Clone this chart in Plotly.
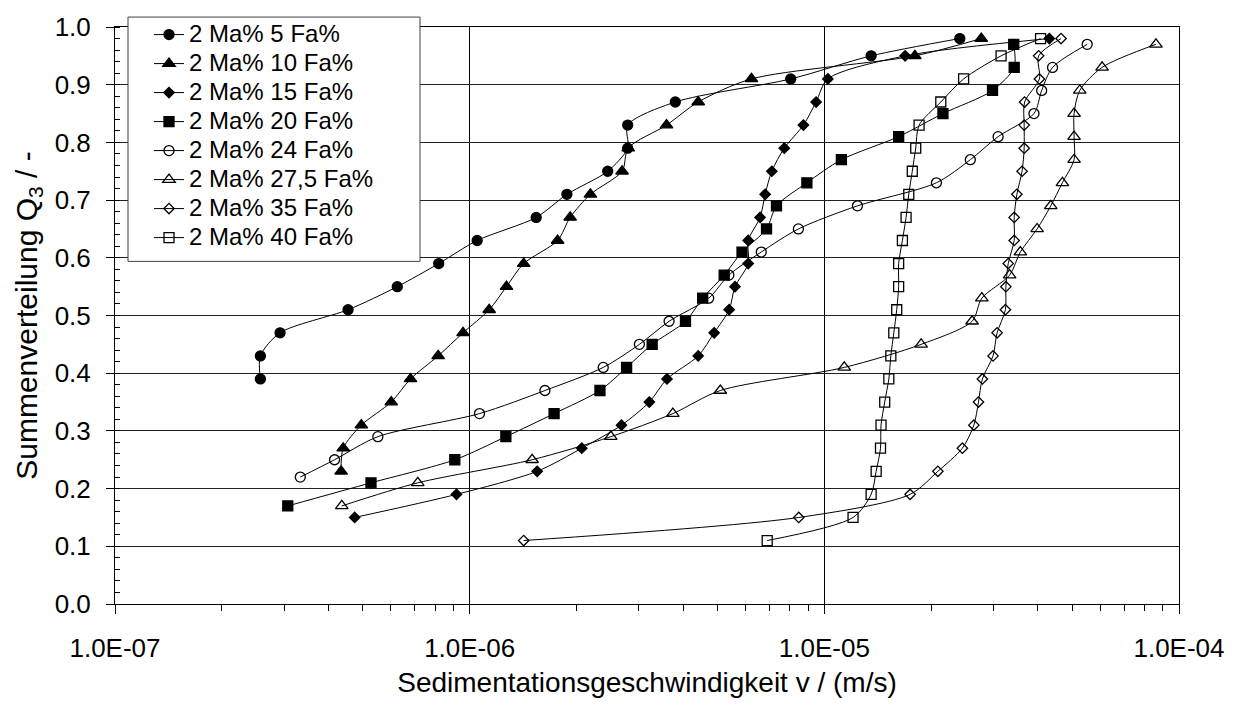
import plotly.graph_objects as go

# Sedimentation velocity v (m/s) and cumulative distribution Q3 for each mixture
labels = ["2 Ma% 5 Fa%", "2 Ma% 10 Fa%", "2 Ma% 15 Fa%", "2 Ma% 20 Fa%",
          "2 Ma% 24 Fa%", "2 Ma% 27,5 Fa%", "2 Ma% 35 Fa%", "2 Ma% 40 Fa%"]

v_fa5 = [2.57e-7, 2.57e-7, 2.92e-7, 4.54e-7, 6.25e-7, 8.18e-7, 1.05e-6, 1.54e-6,
         1.88e-6, 2.45e-6, 2.79e-6, 2.79e-6, 3.80e-6, 8.04e-6, 1.355e-5, 2.41e-5]
q_fa5 = [0.39, 0.43, 0.47, 0.51, 0.55, 0.59, 0.63, 0.67,
         0.71, 0.75, 0.79, 0.83, 0.87, 0.91, 0.95, 0.98]

v_fa10 = [4.34e-7, 4.40e-7, 4.95e-7, 6.01e-7, 6.81e-7, 8.15e-7, 9.58e-7, 1.135e-6,
          1.27e-6, 1.42e-6, 1.77e-6, 1.92e-6, 2.19e-6, 2.69e-6, 2.80e-6, 3.59e-6,
          4.41e-6, 6.23e-6, 1.80e-5, 2.77e-5]
q_fa10 = [0.23, 0.27, 0.31, 0.35, 0.39, 0.43, 0.47, 0.51,
          0.55, 0.59, 0.63, 0.67, 0.71, 0.75, 0.79, 0.83,
          0.87, 0.91, 0.95, 0.98]

v_fa15 = [4.74e-7, 9.18e-7, 1.55e-6, 2.07e-6, 2.68e-6, 3.21e-6, 3.60e-6, 4.41e-6,
          4.89e-6, 5.39e-6, 5.60e-6, 6.10e-6, 6.10e-6, 6.59e-6, 6.81e-6, 7.11e-6,
          7.71e-6, 8.73e-6, 9.48e-6, 1.023e-5, 1.69e-5, 4.31e-5]
q_fa15 = [0.15, 0.19, 0.23, 0.27, 0.31, 0.35, 0.39, 0.43,
          0.47, 0.51, 0.55, 0.59, 0.63, 0.67, 0.71, 0.75,
          0.79, 0.83, 0.87, 0.91, 0.95, 0.98]

v_fa20 = [3.07e-7, 5.27e-7, 9.08e-7, 1.265e-6, 1.73e-6, 2.33e-6, 2.77e-6, 3.27e-6,
          4.06e-6, 4.54e-6, 5.22e-6, 5.86e-6, 6.87e-6, 7.33e-6, 8.93e-6, 1.117e-5,
          1.62e-5, 2.16e-5, 2.98e-5, 3.43e-5, 3.42e-5]
q_fa20 = [0.17, 0.21, 0.25, 0.29, 0.33, 0.37, 0.41, 0.45,
          0.49, 0.53, 0.57, 0.61, 0.65, 0.69, 0.73, 0.77,
          0.81, 0.85, 0.89, 0.93, 0.97]

v_fa24 = [3.33e-7, 4.16e-7, 5.51e-7, 1.066e-6, 1.63e-6, 2.38e-6, 3.01e-6, 3.65e-6,
          4.72e-6, 5.38e-6, 6.64e-6, 8.45e-6, 1.24e-5, 2.07e-5, 2.58e-5, 3.09e-5,
          3.90e-5, 4.10e-5, 4.40e-5, 5.51e-5]
q_fa24 = [0.22, 0.25, 0.29, 0.33, 0.37, 0.41, 0.45, 0.49,
          0.53, 0.57, 0.61, 0.65, 0.69, 0.73, 0.77, 0.81,
          0.85, 0.89, 0.93, 0.97]

v_fa27 = [4.36e-7, 7.14e-7, 1.50e-6, 2.50e-6, 3.74e-6, 5.09e-6, 1.138e-5, 1.875e-5,
          2.61e-5, 2.78e-5, 3.33e-5, 3.57e-5, 3.98e-5, 4.35e-5, 4.69e-5, 5.06e-5,
          5.06e-5, 5.06e-5, 5.25e-5, 6.07e-5, 8.61e-5]
q_fa27 = [0.17, 0.21, 0.25, 0.29, 0.33, 0.37, 0.41, 0.45,
          0.49, 0.53, 0.57, 0.61, 0.65, 0.69, 0.73, 0.77,
          0.81, 0.85, 0.89, 0.93, 0.97]

v_fa35 = [1.42e-6, 8.47e-6, 1.745e-5, 2.09e-5, 2.45e-5, 2.64e-5, 2.72e-5, 2.79e-5,
          2.99e-5, 3.07e-5, 3.24e-5, 3.25e-5, 3.30e-5, 3.43e-5, 3.43e-5, 3.49e-5,
          3.61e-5, 3.66e-5, 3.66e-5, 3.67e-5, 4.04e-5, 4.02e-5, 4.65e-5]
q_fa35 = [0.11, 0.15, 0.19, 0.23, 0.27, 0.31, 0.35, 0.39,
          0.43, 0.47, 0.51, 0.55, 0.59, 0.63, 0.67, 0.71,
          0.75, 0.79, 0.83, 0.87, 0.91, 0.95, 0.98]

v_fa40 = [6.90e-6, 1.205e-5, 1.355e-5, 1.40e-5, 1.44e-5, 1.445e-5, 1.48e-5, 1.52e-5,
          1.54e-5, 1.57e-5, 1.60e-5, 1.62e-5, 1.62e-5, 1.66e-5, 1.70e-5, 1.73e-5,
          1.77e-5, 1.81e-5, 1.85e-5, 2.13e-5, 2.47e-5, 3.15e-5, 4.07e-5]
q_fa40 = [0.11, 0.15, 0.19, 0.23, 0.27, 0.31, 0.35, 0.39,
          0.43, 0.47, 0.51, 0.55, 0.59, 0.63, 0.67, 0.71,
          0.75, 0.79, 0.83, 0.87, 0.91, 0.95, 0.98]

x_tick_vals = [1e-7, 1e-6, 1e-5, 1e-4]
x_tick_text = ["1.0E-07", "1.0E-06", "1.0E-05", "1.0E-04"]

series_v = [v_fa5, v_fa10, v_fa15, v_fa20, v_fa24, v_fa27, v_fa35, v_fa40]
series_q = [q_fa5, q_fa10, q_fa15, q_fa20, q_fa24, q_fa27, q_fa35, q_fa40]
symbols = ["circle", "triangle-up", "diamond", "square",
           "circle-open", "triangle-up-open", "diamond-open", "square-open"]
sizes = [10, 11, 8, 10, 10, 11, 8, 10]

FONT = "Liberation Sans, Arial, sans-serif"

fig = go.Figure()
for name, v, q, sym, sz in zip(labels, series_v, series_q, symbols, sizes):
    fig.add_trace(go.Scatter(
        x=v, y=q, name=f'<span style="font-size:24px">{name}</span>',
        mode="lines+markers",
        line=dict(color="black", width=1, shape="spline", smoothing=0.8),
        marker=dict(symbol=sym, size=sz, color="black",
                    line=dict(color="black", width=1.3)),
    ))

minor_x = [m * 10.0 ** e for e in range(-7, -4) for m in range(2, 10)]

W, H = 1237, 709
ml, mr, mt, mb = 115, 58, 23, 105
pw, ph = W - ml - mr, H - mt - mb


def px(xp):
    return (xp - ml) / pw


def py(yp):
    return (H - mb - yp) / ph


# legend frame
fig.add_shape(type="rect", xref="paper", yref="paper",
              x0=px(128), x1=px(420), y0=py(259), y1=py(13),
              fillcolor="white", line=dict(color="#404040", width=1),
              layer="above")

fig.update_layout(
    width=W, height=H,
    margin=dict(l=ml, r=mr, t=mt, b=mb),
    paper_bgcolor="white", plot_bgcolor="white",
    font=dict(family=FONT, size=26, color="black"),
    showlegend=True,
    legend=dict(x=px(149), y=py(11), xanchor="left", yanchor="top",
                bgcolor="rgba(0,0,0,0)", borderwidth=0,
                font=dict(family=FONT, size=20, color="black"),
                tracegroupgap=0),
    xaxis=dict(
        type="log", range=[-7, -4],
        tickmode="array", tickvals=x_tick_vals, ticktext=x_tick_text,
        ticks="outside", ticklen=9, tickcolor="black", tickwidth=1,
        ticklabelstandoff=12,
        showline=True, linecolor="black", linewidth=1, mirror=True,
        showgrid=True, gridcolor="black", gridwidth=1,
        zeroline=False,
        minor=dict(tickmode="array", tickvals=minor_x, ticks="outside",
                   ticklen=6, tickcolor="black", showgrid=False),
        title=dict(text="Sedimentationsgeschwindigkeit v / (m/s)",
                   font=dict(family=FONT, size=28), standoff=10),
    ),
    yaxis=dict(
        range=[0, 1], tickmode="linear", tick0=0, dtick=0.1, tickformat=".1f",
        ticks="outside", ticklen=8, tickcolor="black", tickwidth=1,
        ticklabelstandoff=10,
        showline=True, linecolor="black", linewidth=1, mirror=True,
        showgrid=True, gridcolor="#202020", gridwidth=1,
        zeroline=False,
        minor=dict(dtick=0.02, ticks="inside", ticklen=5, tickcolor="black",
                   showgrid=False),
        title=dict(text="Summenverteilung Q<sub>3</sub> / -",
                   font=dict(family=FONT, size=30), standoff=8),
    ),
)

fig.write_html("out.html")
